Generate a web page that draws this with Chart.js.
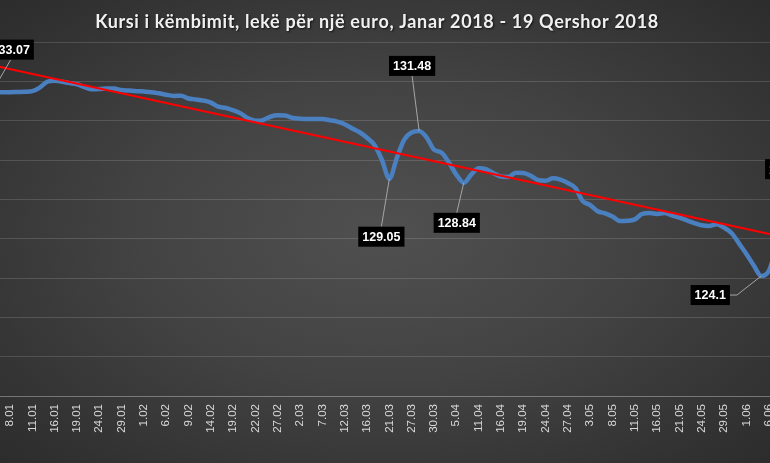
<!DOCTYPE html>
<html>
<head>
<meta charset="utf-8">
<script src="https://cdn.jsdelivr.net/npm/chart.js@4"></script>
<style>
  html, body {
    margin: 0;
    padding: 0;
    width: 770px;
    height: 463px;
    overflow: hidden;
    background: radial-gradient(ellipse at 50% 50%, #505050 0%, #434343 45%, #2c2c2c 100%);
  }
  #rateChart {
    position: absolute;
    left: -96px;
    top: 0;
  }
</style>
</head>
<body>
<canvas id="rateChart" width="946" height="463"></canvas>
<script>
// ------------------
// data
// ------------------
const dates = [
  "3.01","4.01","5.01","8.01","9.01","10.01","11.01","12.01","15.01","16.01","17.01","18.01","19.01","22.01","23.01","24.01","25.01","26.01","29.01","30.01","31.01",
  "1.02","2.02","5.02","6.02","7.02","8.02","9.02","12.02","13.02","14.02","15.02","16.02","19.02","20.02","21.02","22.02","23.02","26.02","27.02","28.02",
  "1.03","2.03","5.03","6.03","7.03","8.03","9.03","12.03","13.03","15.03","16.03","19.03","20.03","21.03","23.03","26.03","27.03","28.03","29.03","30.03",
  "3.04","4.04","5.04","6.04","10.04","11.04","12.04","13.04","16.04","17.04","18.04","19.04","20.04","23.04","24.04","25.04","26.04","27.04","30.04",
  "2.05","3.05","4.05","7.05","8.05","9.05","10.05","11.05","14.05","15.05","16.05","17.05","18.05","21.05","22.05","23.05","24.05","25.05","28.05","29.05","30.05","31.05",
  "1.06","4.06","5.06","6.06","7.06","8.06","11.06","12.06","13.06","14.06","18.06","19.06"
];

// lekë per euro
const rates = [
  133.07,133.44,133.45,133.45,133.46,133.47,133.50,133.68,133.98,134.03,133.98,133.91,133.85,133.71,133.60,133.61,133.64,133.63,133.56,133.53,133.50,
  133.48,133.45,133.39,133.32,133.26,133.27,133.13,133.08,133.02,132.92,132.71,132.65,132.53,132.37,132.12,132.00,132.03,132.20,132.27,132.26,
  132.14,132.10,132.08,132.08,132.08,132.02,131.95,131.82,131.60,131.41,131.13,130.76,130.00,129.05,130.10,131.04,131.40,131.48,131.15,130.53,
  130.38,129.87,129.26,128.84,129.26,129.58,129.53,129.33,129.16,129.14,129.35,129.34,129.20,128.98,128.95,129.07,129.00,128.83,128.58,
  127.91,127.71,127.39,127.29,127.13,126.90,126.91,126.98,127.26,127.30,127.26,127.30,127.18,127.07,126.93,126.79,126.68,126.65,126.73,126.56,126.29,125.76,
  125.22,124.63,124.10,124.35,125.40,125.85,126.05,125.95,125.80,125.90,125.75,125.62
];

// linear trend, read at first and last day
const trendStart = 134.87;
const trendEnd = 125.59;

const yTicks = { min: 118, max: 136, step: 2 };

// points that carry a value label
const labelledPoints = [0, 54, 58, 64, 104, 113];

const titleText = "Kursi i këmbimit, lekë për një euro, Janar 2018 - 19 Qershor 2018";

// ------------------
// value labels
// ------------------
const labelOffsets = {
  0: { dx: 23, dy: -50 },
  54: { dx: -8, dy: 58 },
  58: { dx: -7, dy: -65 },
  64: { dx: -7, dy: 40 },
  104: { dx: -51, dy: 19 },
  113: { dx: -40, dy: -77 }
};

const valueLabels = {
  id: "valueLabels",
  afterDatasetsDraw(chart) {
    const meta = chart.getDatasetMeta(0);
    const ctx = chart.ctx;
    ctx.save();
    ctx.font = 'bold 12.5px "Liberation Sans"';
    labelledPoints.forEach(i => {
      const pt = meta.data[i];
      const off = labelOffsets[i];
      const text = String(rates[i]);
      const w = ctx.measureText(text).width + 8;
      const h = 20;
      const cx = pt.x + off.dx;
      const cy = pt.y + off.dy;

      ctx.strokeStyle = "#a6a6a6";
      ctx.lineWidth = 1;
      ctx.beginPath();
      if (Math.abs(off.dx) > Math.abs(off.dy)) {
        const sx = cx + (off.dx < 0 ? w / 2 : -w / 2);
        ctx.moveTo(sx, cy);
        ctx.lineTo(sx + (off.dx < 0 ? 7 : -7), cy);
      } else {
        ctx.moveTo(cx, cy + (off.dy < 0 ? h / 2 : -h / 2));
      }
      ctx.lineTo(pt.x, pt.y);
      ctx.stroke();

      ctx.fillStyle = "#000";
      ctx.fillRect(cx - w / 2, cy - h / 2, w, h);
      ctx.fillStyle = "#fff";
      ctx.textAlign = "center";
      ctx.textBaseline = "middle";
      ctx.fillText(text, cx, cy + 1);
    });
    ctx.restore();
  }
};

// title with a soft shadow and a little letter spacing, like the original
const chartTitle = {
  id: "chartTitle",
  afterDraw(chart) {
    const ctx = chart.ctx;
    ctx.save();
    ctx.font = 'bold 18px "Lato"';
    ctx.letterSpacing = "0.65px";
    ctx.textAlign = "center";
    ctx.textBaseline = "middle";
    ctx.shadowColor = "rgba(0,0,0,0.7)";
    ctx.shadowOffsetX = 1;
    ctx.shadowOffsetY = 1;
    ctx.shadowBlur = 2;
    ctx.fillStyle = "#f0f0f0";
    ctx.fillText(titleText, chart.width / 2, 22);
    ctx.restore();
  }
};

// ------------------
// chart
// ------------------
function createChart() {
  const trend = dates.map((d, i) => {
    if (i === 0) return trendStart;
    if (i === dates.length - 1) return trendEnd;
    return null;
  });

  new Chart(document.getElementById("rateChart"), {
    type: "line",
    data: {
      labels: dates,
      datasets: [{
        data: rates,
        borderColor: "#4a7fc0",
        borderWidth: 4.5,
        pointRadius: 0,
        cubicInterpolationMode: "monotone",
        borderJoinStyle: "round",
        borderCapStyle: "round",
        order: 1
      }, {
        data: trend,
        borderColor: "#ff0000",
        borderWidth: 2,
        pointRadius: 0,
        spanGaps: true,
        order: 0
      }]
    },
    options: {
      responsive: false,
      animation: false,
      devicePixelRatio: 1,
      layout: { padding: { left: 80, right: 0, top: 42, bottom: 0 } },
      plugins: {
        legend: { display: false },
        tooltip: { enabled: false },
        title: { display: false }
      },
      scales: {
        x: {
          offset: true,
          grid: { display: false, drawTicks: false },
          border: { display: true, color: "rgba(255,255,255,0.22)", width: 1 },
          ticks: {
            autoSkip: false,
            minRotation: 90,
            maxRotation: 90,
            padding: 8,
            color: "#d9d9d9",
            font: { family: "Liberation Sans", size: 11.5 },
            callback: (v, i) => (i % 3 === 0 ? dates[i] : "")
          },
          afterFit: s => { s.height = 67; }
        },
        y: {
          min: yTicks.min,
          max: yTicks.max,
          ticks: { display: false, stepSize: yTicks.step },
          grid: { color: "rgba(255,255,255,0.14)", drawTicks: false },
          border: { display: false },
          afterFit: s => { s.width = 0; }
        }
      }
    },
    plugins: [valueLabels, chartTitle]
  });
}

window.onload = () => {
  createChart();
};
</script>
</body>
</html>
